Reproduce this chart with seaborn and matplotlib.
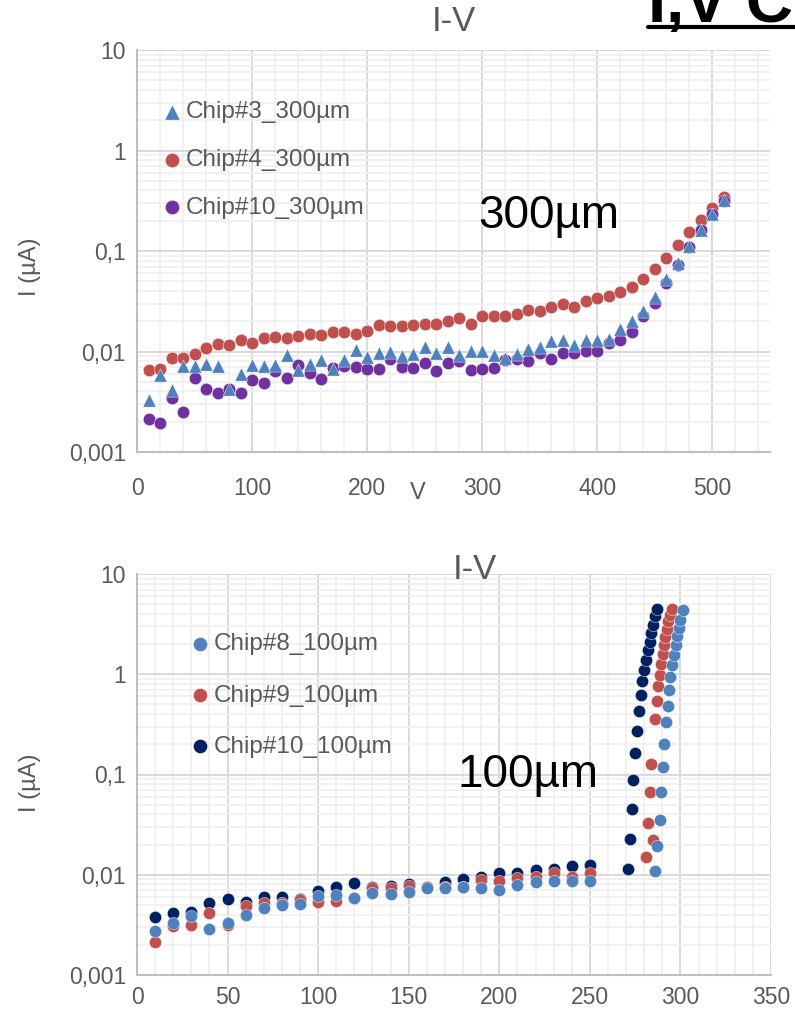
import matplotlib
matplotlib.use('Agg')
import matplotlib.pyplot as plt
import seaborn as sns
from matplotlib.lines import Line2D
from matplotlib.ticker import LogLocator, MultipleLocator, NullFormatter

# ---- 300um chips (top chart) ----
v_300 = [10, 20, 30, 40, 50, 60, 70, 80, 90, 100,
         110, 120, 130, 140, 150, 160, 170, 180, 190, 200,
         210, 220, 230, 240, 250, 260, 270, 280, 290, 300,
         310, 320, 330, 340, 350, 360, 370, 380, 390, 400,
         410, 420, 430, 440, 450, 460, 470, 480, 490, 500, 510]
i_chip3_300 = [0.0033, 0.0058, 0.0041, 0.0071, 0.0071, 0.0075, 0.0071, 0.0042, 0.0060, 0.0073,
               0.0071, 0.0074, 0.0093, 0.0065, 0.0075, 0.0083, 0.0067, 0.0083, 0.0104, 0.0088,
               0.0097, 0.0100, 0.0090, 0.0095, 0.0110, 0.0096, 0.0110, 0.0093, 0.0102, 0.0102,
               0.0093, 0.0087, 0.0095, 0.0106, 0.0110, 0.0127, 0.0129, 0.0117, 0.0129, 0.0131,
               0.0134, 0.0168, 0.0200, 0.0252, 0.0352, 0.0528, 0.0757, 0.113, 0.163, 0.234, 0.323]
i_chip4_300 = [0.0066, 0.0067, 0.0086, 0.0086, 0.0095, 0.0109, 0.0119, 0.0116, 0.0131, 0.0121,
               0.0136, 0.0139, 0.0137, 0.0143, 0.0148, 0.0146, 0.0158, 0.0156, 0.0151, 0.0160,
               0.0185, 0.0181, 0.0180, 0.0185, 0.0188, 0.0189, 0.0203, 0.0214, 0.0188, 0.0223,
               0.0228, 0.0223, 0.0237, 0.0260, 0.0252, 0.0280, 0.0294, 0.0280, 0.0315, 0.0342,
               0.0355, 0.0390, 0.0437, 0.0528, 0.0660, 0.0855, 0.116, 0.154, 0.204, 0.269, 0.343]
i_chip10_300 = [0.00214, 0.00194, 0.00343, 0.00249, 0.00547, 0.00425, 0.00385, 0.00425, 0.0039, 0.00523,
                0.00484, 0.00637, 0.0054, 0.00726, 0.0061, 0.00535, 0.00683, 0.0071, 0.00698, 0.00673,
                0.00673, 0.0085, 0.0070, 0.0069, 0.0076, 0.0064, 0.0076, 0.0081, 0.0066, 0.0067,
                0.0069, 0.0083, 0.0085, 0.0081, 0.0096, 0.0085, 0.0096, 0.0096, 0.0102, 0.0102,
                0.0121, 0.0129, 0.0156, 0.0223, 0.0303, 0.0479, 0.0718, 0.109, 0.160, 0.234, 0.318]

# ---- 100um chips (bottom chart) ----
v_chip8_100 = [10, 20, 30, 40, 50, 60, 70, 80, 90, 100, 110, 120, 130, 140, 150, 160, 170, 180, 190, 200,
               210, 220, 230, 240, 250,
               286, 287, 288.5, 289.5, 290.5, 291, 292, 293, 293.5, 294.5, 295.5, 296.5, 297.5, 298, 299, 300, 301.5]
i_chip8_100 = [0.00276, 0.0033, 0.0039, 0.00287, 0.0033, 0.0040, 0.00465, 0.0050, 0.0051, 0.0062,
               0.0063, 0.0058, 0.0066, 0.0065, 0.0067, 0.0074, 0.0074, 0.0076, 0.0074, 0.0071,
               0.0079, 0.0084, 0.0086, 0.0086, 0.0086,
               0.0108, 0.0195, 0.0354, 0.0662, 0.120, 0.203, 0.331, 0.485, 0.700, 0.938, 1.24, 1.57,
               1.97, 2.38, 2.89, 3.50, 4.33]
v_chip9_100 = [10, 20, 30, 40, 50, 60, 70, 80, 90, 100, 110, 120, 130, 140, 150, 160, 170, 180, 190, 200,
               210, 220, 230, 240, 250,
               281, 285, 282, 283, 284, 286, 287, 287.5, 288.5, 289.5, 290.5, 291, 291.5, 292.5, 293, 294, 295.5]
i_chip9_100 = [0.00213, 0.0031, 0.00312, 0.00412, 0.00312, 0.0049, 0.0052, 0.0052, 0.0056, 0.0053,
               0.0055, 0.0058, 0.0074, 0.0074, 0.0078, 0.0075, 0.0076, 0.0075, 0.0088, 0.0087,
               0.0093, 0.0096, 0.0104, 0.0096, 0.0104,
               0.0152, 0.0220, 0.0328, 0.0668, 0.127, 0.36, 0.536, 0.756, 0.99, 1.27, 1.59, 1.94,
               2.33, 2.82, 3.36, 3.93, 4.47]
v_chip10_100 = [10, 20, 30, 40, 50, 60, 70, 80, 90, 100, 110, 120, 130, 140, 150, 160, 170, 180, 190, 200,
                210, 220, 230, 240, 250,
                271, 272, 273, 274, 275, 276, 277, 278, 279, 280, 281, 282, 283, 284, 285, 286, 287]
i_chip10_100 = [0.00375, 0.00412, 0.00428, 0.00519, 0.00569, 0.00539, 0.00596, 0.00605, 0.00576, 0.0069,
                0.0076, 0.0082, 0.0076, 0.0077, 0.0081, 0.0075, 0.0084, 0.0091, 0.0094, 0.0104,
                0.0104, 0.0112, 0.0113, 0.0122, 0.0124,
                0.0114, 0.0227, 0.0452, 0.0887, 0.164, 0.273, 0.432, 0.625, 0.848, 1.11, 1.40, 1.73,
                2.12, 2.58, 3.12, 3.78, 4.47]

y_ticks = [0.001, 0.01, 0.1, 1, 10]
y_tick_labels = ['0,001', '0,01', '0,1', '1', '10']

BLUE = '#4F81BD'
RED = '#C0504D'
PURPLE = '#7030A0'
NAVY = '#002060'
GREY = '#595959'

sns.set_style('white')
plt.rcParams['font.family'] = ['Liberation Sans', 'DejaVu Sans']

fig = plt.figure(figsize=(7.95, 10.11), dpi=100)
ax1 = fig.add_axes([137 / 795, 1 - 452 / 1011, 633 / 795, 402 / 1011])
ax2 = fig.add_axes([137 / 795, 1 - 975 / 1011, 634 / 795, 401 / 1011])


def style_axes(ax, xmax, xmajor, xminor, xpad):
    ax.set_yscale('log')
    ax.set_ylim(0.001, 10)
    ax.set_xlim(0, xmax)
    ax.set_yticks(y_ticks, y_tick_labels)
    ax.yaxis.set_minor_locator(LogLocator(base=10, subs=range(2, 10)))
    ax.yaxis.set_minor_formatter(NullFormatter())
    ax.xaxis.set_major_locator(MultipleLocator(xmajor))
    ax.xaxis.set_minor_locator(MultipleLocator(xminor))
    ax.grid(which='minor', color='#EFEFEF', linewidth=1.2, zorder=0)
    ax.grid(which='major', color='#D9D9D9', linewidth=1.4, zorder=0)
    ax.set_axisbelow(True)
    for side in ['top', 'right']:
        ax.spines[side].set_visible(False)
    for side in ['left', 'bottom']:
        ax.spines[side].set_color('#BFBFBF')
        ax.spines[side].set_linewidth(1.5)
    ax.tick_params(which='both', length=0, labelsize=16.5, labelcolor=GREY)
    ax.tick_params(axis='x', pad=xpad)
    ax.tick_params(axis='y', pad=8)


# top chart
sns.scatterplot(x=v_300, y=i_chip4_300, ax=ax1, color=RED, marker='o', s=80,
                edgecolor='white', linewidth=0.3, label='Chip#4_300µm', zorder=3)
sns.scatterplot(x=v_300, y=i_chip10_300, ax=ax1, color=PURPLE, marker='o', s=80,
                edgecolor='white', linewidth=0.3, label='Chip#10_300µm', zorder=3)
sns.scatterplot(x=v_300, y=i_chip3_300, ax=ax1, color=BLUE, marker='^', s=90,
                edgecolor='white', linewidth=0.3, label='Chip#3_300µm', zorder=3)
style_axes(ax1, 550, 100, 20, 18)
ax1.set_xlabel('V', fontsize=17, color=GREY)
ax1.xaxis.set_label_coords(0.444, -0.075)
ax1.set_ylabel('I (µA)', fontsize=17, color=GREY)
ax1.yaxis.set_label_coords(-0.152, 0.46)
ax1.text(0.5, 1.072, 'I-V', transform=ax1.transAxes, ha='center', va='center',
         fontsize=25, color=GREY)
ax1.text(0.539, 0.587, '300µm', transform=ax1.transAxes, ha='left', va='center',
         fontsize=33, color='black')
h, l = ax1.get_legend_handles_labels()
order = [2, 0, 1]
ax1.legend([h[k] for k in order], [l[k] for k in order], loc='upper left',
           bbox_to_anchor=(0.042, 0.872), frameon=False, fontsize=17.5, labelcolor=GREY,
           handlelength=0.7, handletextpad=0.2, labelspacing=1.05, markerscale=1.15,
           borderpad=0, borderaxespad=0)

# bottom chart
sns.scatterplot(x=v_chip10_100, y=i_chip10_100, ax=ax2, color=NAVY, marker='o', s=78,
                edgecolor='white', linewidth=0.3, label='Chip#10_100µm', zorder=3)
sns.scatterplot(x=v_chip9_100, y=i_chip9_100, ax=ax2, color=RED, marker='o', s=78,
                edgecolor='white', linewidth=0.3, label='Chip#9_100µm', zorder=3)
sns.scatterplot(x=v_chip8_100, y=i_chip8_100, ax=ax2, color=BLUE, marker='o', s=78,
                edgecolor='white', linewidth=0.3, label='Chip#8_100µm', zorder=3)
style_axes(ax2, 350, 50, 10, 8)
ax2.set_xlabel('')
ax2.set_ylabel('I (µA)', fontsize=17, color=GREY)
ax2.yaxis.set_label_coords(-0.152, 0.479)
ax2.text(0.533, 1.012, 'I-V', transform=ax2.transAxes, ha='center', va='center',
         fontsize=25, color=GREY)
ax2.text(0.506, 0.499, '100µm', transform=ax2.transAxes, ha='left', va='center',
         fontsize=33, color='black')
h, l = ax2.get_legend_handles_labels()
order = [2, 1, 0]
ax2.legend([h[k] for k in order], [l[k] for k in order], loc='upper left',
           bbox_to_anchor=(0.086, 0.852), frameon=False, fontsize=17.5, labelcolor=GREY,
           handlelength=0.7, handletextpad=0.2, labelspacing=1.2, markerscale=1.15,
           borderpad=0, borderaxespad=0)

# cropped page heading in the top right corner
fig.text(648 / 795, 1 - 22 / 1011, 'I,V Characteristics', ha='left', va='baseline',
         fontsize=47, fontweight='bold', color='black')
fig.add_artist(Line2D([648 / 795, 1.0], [1 - 27 / 1011, 1 - 27 / 1011],
                      transform=fig.transFigure, color='black', linewidth=3))

fig.savefig('out.png', dpi=100)
